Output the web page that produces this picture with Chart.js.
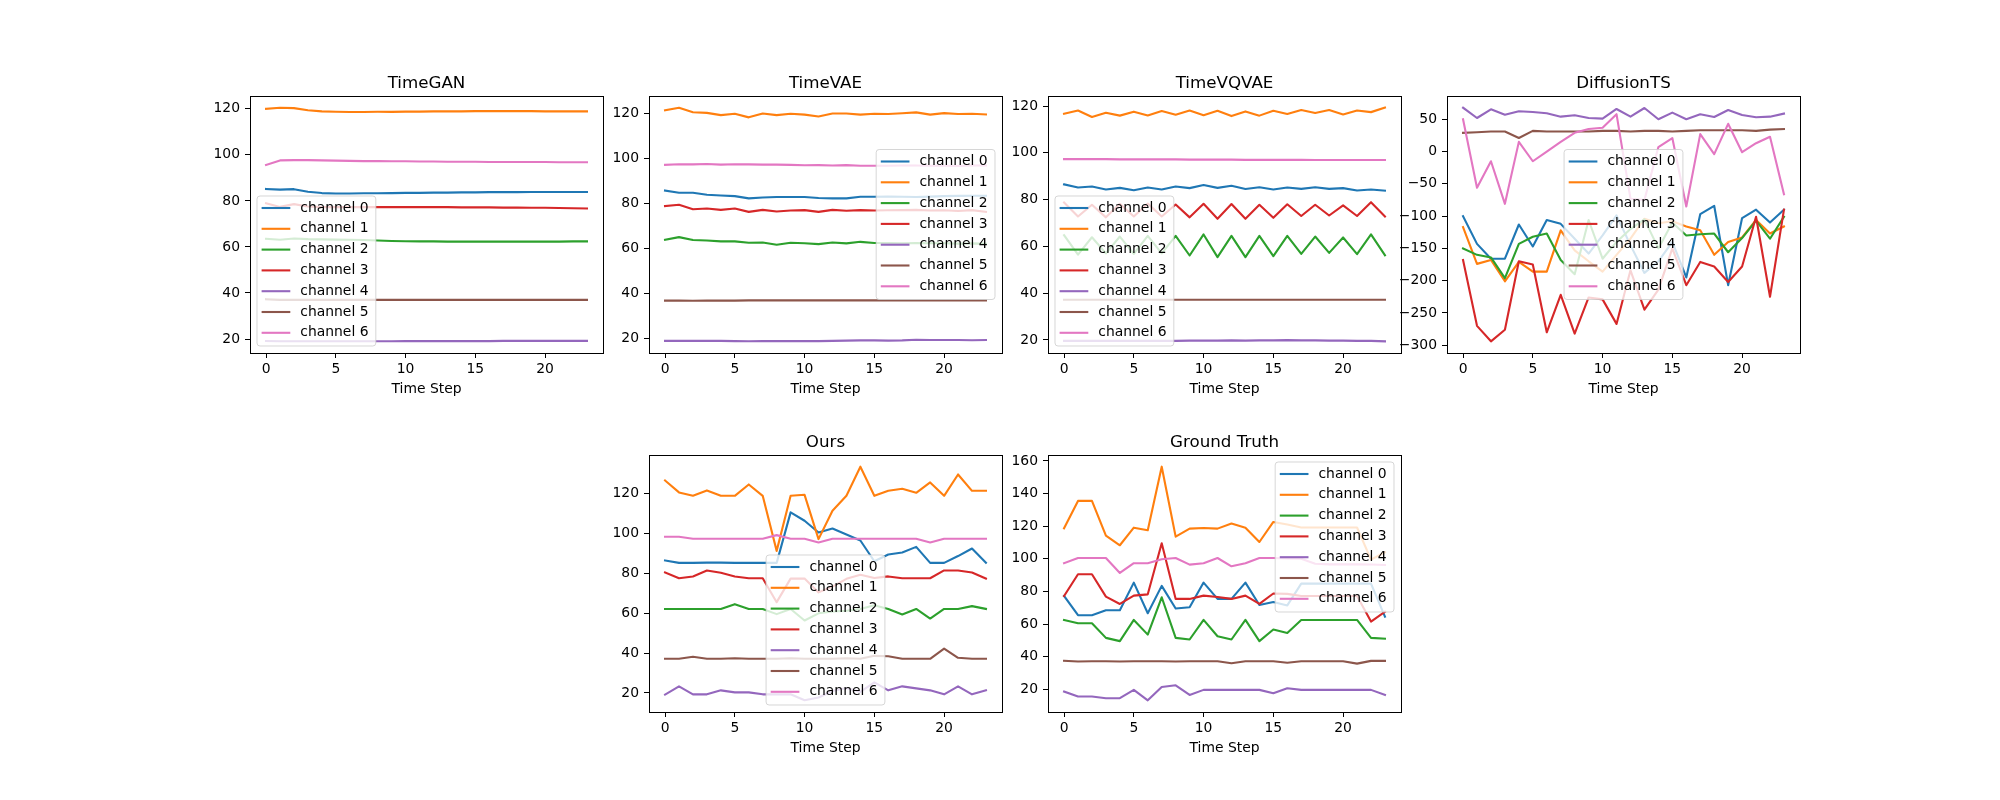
<!DOCTYPE html>
<html>
<head>
<meta charset="utf-8">
<script src="https://cdn.jsdelivr.net/npm/chart.js@4.4.1/dist/chart.umd.min.js"></script>
<style>
    body { margin: 0; background: #fff; width: 2000px; height: 800px; position: relative; overflow: hidden; }
    canvas { position: absolute; }
</style>
</head>
<body>
<canvas id="timegan"></canvas>
<canvas id="timevae"></canvas>
<canvas id="timevqvae"></canvas>
<canvas id="diffusionts"></canvas>
<canvas id="ours"></canvas>
<canvas id="groundtruth"></canvas>
<script>
// Shared categories / ticks
const timeSteps = [0, 1, 2, 3, 4, 5, 6, 7, 8, 9, 10, 11, 12, 13, 14, 15, 16, 17, 18, 19, 20, 21, 22, 23];
const channelNames = ['channel 0', 'channel 1', 'channel 2', 'channel 3', 'channel 4', 'channel 5', 'channel 6'];
const channelColors = ['#1f77b4', '#ff7f0e', '#2ca02c', '#d62728', '#9467bd', '#8c564b', '#e377c2'];
const xTicks = [0, 5, 10, 15, 20];
const yTicksMain = [20, 40, 60, 80, 100, 120];
const yTicksDiffusion = [-300, -250, -200, -150, -100, -50, 0, 50];
const yTicksTruth = [20, 40, 60, 80, 100, 120, 140, 160];

// TimeGAN (channel 0..6)
const timeGAN = [
    [85.2, 84.9, 85.1, 84.0, 83.4, 83.2, 83.2, 83.3, 83.3, 83.4, 83.5, 83.5, 83.6, 83.6, 83.7, 83.7, 83.8, 83.8, 83.8, 83.9, 83.9, 83.9, 83.9, 83.9],
    [120.0, 120.5, 120.3, 119.4, 118.9, 118.7, 118.6, 118.6, 118.7, 118.7, 118.8, 118.8, 118.9, 118.9, 118.9, 119.0, 119.0, 119.0, 119.0, 119.0, 118.9, 118.9, 118.9, 118.9],
    [63.5, 63.1, 63.7, 63.4, 63.3, 63.2, 63.1, 63.0, 62.8, 62.6, 62.5, 62.4, 62.4, 62.3, 62.3, 62.3, 62.3, 62.3, 62.3, 62.3, 62.3, 62.3, 62.4, 62.4],
    [79.0, 77.4, 78.6, 77.6, 77.3, 77.3, 77.3, 77.3, 77.3, 77.3, 77.3, 77.3, 77.3, 77.3, 77.2, 77.2, 77.2, 77.1, 77.1, 77.0, 77.0, 76.9, 76.8, 76.7],
    [19.1, 19.0, 19.0, 19.0, 19.0, 19.0, 19.0, 19.0, 19.0, 19.0, 19.1, 19.1, 19.1, 19.1, 19.1, 19.1, 19.1, 19.2, 19.2, 19.2, 19.2, 19.2, 19.2, 19.2],
    [37.3, 37.0, 37.0, 37.0, 37.0, 37.0, 37.0, 37.0, 37.0, 37.0, 37.0, 37.0, 37.0, 37.0, 37.0, 37.0, 37.0, 37.0, 37.0, 37.0, 37.0, 37.0, 37.0, 37.0],
    [95.6, 97.6, 97.7, 97.7, 97.6, 97.5, 97.4, 97.3, 97.3, 97.2, 97.2, 97.1, 97.1, 97.0, 97.0, 97.0, 96.9, 96.9, 96.9, 96.9, 96.9, 96.8, 96.8, 96.8]
];

// TimeVAE
const timeVAE = [
    [85.9, 84.9, 84.9, 84.0, 83.7, 83.4, 82.4, 82.8, 83.0, 83.0, 83.0, 82.6, 82.4, 82.4, 83.1, 83.1, 83.2, 83.1, 83.0, 83.2, 83.4, 83.5, 83.6, 83.6],
    [121.5, 122.7, 120.7, 120.4, 119.4, 120.0, 118.4, 120.1, 119.4, 120.0, 119.6, 118.8, 120.1, 120.1, 119.6, 120.0, 119.9, 120.2, 120.6, 119.6, 120.3, 119.9, 120.0, 119.7],
    [64.0, 65.2, 63.9, 63.7, 63.3, 63.3, 62.7, 62.8, 61.8, 62.7, 62.5, 62.1, 62.8, 62.4, 63.1, 62.6, 62.6, 62.5, 62.6, 62.5, 62.5, 62.3, 62.4, 62.2],
    [79.0, 79.6, 77.6, 77.9, 77.3, 77.9, 76.4, 77.3, 76.6, 77.0, 77.2, 76.4, 77.3, 76.9, 77.2, 77.0, 77.1, 77.2, 77.3, 77.0, 77.1, 76.8, 77.2, 76.4],
    [19.1, 19.1, 19.1, 19.1, 19.1, 19.0, 18.9, 19.0, 19.0, 19.0, 19.0, 19.0, 19.1, 19.2, 19.3, 19.3, 19.2, 19.3, 19.6, 19.5, 19.5, 19.5, 19.4, 19.5],
    [37.0, 37.0, 36.9, 37.0, 37.0, 37.0, 37.1, 37.1, 37.1, 37.1, 37.1, 37.1, 37.1, 37.1, 37.1, 37.1, 37.1, 37.1, 37.1, 37.1, 37.1, 37.1, 37.1, 37.1],
    [97.3, 97.6, 97.5, 97.7, 97.4, 97.6, 97.5, 97.4, 97.4, 97.3, 97.1, 97.2, 97.0, 97.2, 96.9, 96.9, 96.9, 97.0, 97.0, 96.9, 96.9, 96.8, 97.0, 97.0]
];

// TimeVQVAE
const timeVQVAE = [
    [86.5, 85.2, 85.6, 84.3, 85.0, 84.0, 85.2, 84.3, 85.6, 84.9, 86.2, 85.0, 85.9, 84.5, 85.3, 84.3, 85.2, 84.6, 85.3, 84.6, 84.9, 83.9, 84.3, 83.8],
    [116.7, 118.1, 115.3, 117.1, 115.9, 117.6, 116.0, 117.9, 116.3, 118.1, 116.1, 118.0, 115.7, 117.7, 115.9, 118.0, 116.6, 118.3, 117.0, 118.3, 116.4, 118.1, 117.4, 119.3],
    [64.8, 56.5, 63.9, 57.0, 64.2, 56.8, 64.5, 57.0, 64.5, 56.1, 65.1, 55.4, 64.5, 55.4, 64.5, 55.8, 64.5, 56.8, 64.2, 57.2, 63.8, 56.7, 65.1, 56.2],
    [78.8, 72.8, 77.8, 72.4, 78.2, 72.8, 78.3, 72.8, 77.9, 72.4, 78.2, 71.8, 78.1, 71.8, 77.8, 72.2, 78.0, 73.0, 77.8, 73.2, 77.5, 73.0, 78.9, 72.8],
    [19.6, 19.6, 19.6, 19.6, 19.6, 19.6, 19.6, 19.6, 19.6, 19.7, 19.7, 19.7, 19.8, 19.7, 19.8, 19.8, 19.9, 19.8, 19.8, 19.7, 19.7, 19.6, 19.6, 19.4],
    [37.2, 37.2, 37.2, 37.2, 37.2, 37.2, 37.2, 37.2, 37.2, 37.2, 37.2, 37.2, 37.2, 37.2, 37.2, 37.2, 37.2, 37.2, 37.2, 37.2, 37.2, 37.2, 37.2, 37.2],
    [97.3, 97.3, 97.3, 97.3, 97.2, 97.2, 97.2, 97.2, 97.2, 97.1, 97.1, 97.1, 97.1, 97.0, 97.0, 97.0, 97.0, 97.0, 96.9, 96.9, 96.9, 96.9, 96.9, 96.9]
];

// DiffusionTS
const diffusionTS = [
    [-100, -143, -166, -166, -113, -147, -106, -112, -135, -158, -130, -99, -145, -188, -170, -140, -195, -97, -84, -207, -103, -90, -110, -90],
    [-117, -174, -168, -201, -171, -186, -186, -122, -153, -170, -186, -160, -135, -104, -111, -108, -116, -122, -160, -140, -133, -106, -127, -116],
    [-150, -160, -164, -196, -143, -132, -127, -168, -190, -106, -166, -140, -120, -105, -150, -110, -130, -128, -127, -156, -134, -107, -135, -101],
    [-168, -270, -294, -276, -170, -175, -280, -222, -282, -226, -229, -267, -184, -245, -214, -150, -207, -171, -178, -202, -178, -101, -225, -90],
    [68, 52, 65.5, 57, 62.4, 61.4, 59.3, 54.1, 56.2, 52, 51, 66, 54.1, 67.5, 50, 60.3, 50, 57.7, 53.6, 64.5, 56.7, 53.1, 54.1, 58.8],
    [29, 30, 31, 31, 21, 32, 31, 31, 31, 31, 32, 32, 31, 32, 32, 31, 32, 33, 33, 33, 33, 32, 34, 35],
    [50, -56, -15, -81, 15, -15, 0, 15, 29, 35, 37, 58, -73, -75, 7, 21, -85, 27, -4, 43, -1, 13, 23, -66]
];

// Ours
const ours = [
    [86.4, 85.2, 85.2, 85.3, 85.3, 85.2, 85.2, 85.2, 85.2, 110.5, 106.3, 100.4, 102.4, 99.4, 96.4, 86.0, 89.4, 90.4, 93.2, 85.2, 85.2, 88.6, 92.4, 85.2],
    [126.5, 120.5, 118.8, 121.5, 118.8, 118.8, 124.5, 118.8, 91.2, 118.8, 119.3, 97.1, 111.3, 118.8, 133.4, 118.8, 121.3, 122.3, 120.3, 125.5, 118.8, 129.5, 121.3, 121.3],
    [62.1, 62.1, 62.1, 62.1, 62.1, 64.5, 62.1, 62.1, 59.5, 62.1, 56.3, 59.9, 60.8, 61.2, 62.1, 64.0, 62.1, 59.3, 62.1, 57.3, 62.1, 62.1, 63.5, 62.1],
    [80.4, 77.5, 78.4, 81.4, 80.2, 78.4, 77.5, 77.5, 65.5, 77.3, 77.3, 70.4, 73.3, 77.2, 79.2, 77.6, 78.4, 77.5, 77.5, 77.5, 81.4, 81.4, 80.4, 77.3],
    [19.2, 23.3, 19.3, 19.3, 21.3, 20.3, 20.3, 19.3, 19.3, 19.3, 16.3, 17.7, 21.0, 22.5, 20.5, 25.3, 21.3, 23.3, 22.3, 21.3, 19.3, 23.3, 19.3, 21.3],
    [37.1, 37.1, 38.1, 37.1, 37.1, 37.4, 37.1, 37.1, 37.1, 37.4, 37.1, 37.1, 37.1, 37.4, 37.1, 38.6, 38.4, 37.1, 37.1, 37.1, 42.2, 37.6, 37.1, 37.1],
    [98.3, 98.3, 97.3, 97.3, 97.3, 97.3, 97.3, 97.3, 99.1, 97.3, 97.3, 95.4, 97.3, 97.3, 97.3, 97.3, 97.3, 97.3, 97.3, 95.4, 97.3, 97.3, 97.3, 97.3]
];

// Ground Truth
const groundTruth = [
    [77.2, 65.4, 65.4, 68.4, 68.4, 85.4, 66.6, 83.4, 69.5, 70.3, 85.4, 75.4, 75.4, 85.4, 71.7, 73.5, 71.4, 84.8, 84.8, 84.8, 84.8, 84.8, 84.8, 64.5],
    [118.7, 135.5, 135.5, 114.2, 108.3, 119.1, 117.5, 156.5, 113.6, 118.5, 118.9, 118.5, 121.6, 119.1, 110.3, 122.6, 121.0, 119.2, 119.2, 119.2, 119.2, 119.2, 99.5, 104.0],
    [62.5, 60.5, 60.5, 51.5, 49.5, 62.5, 53.5, 76.4, 51.5, 50.5, 62.5, 52.5, 50.5, 62.5, 49.5, 56.6, 54.5, 62.5, 62.5, 62.5, 62.5, 62.5, 51.5, 51.0],
    [77.2, 90.5, 90.5, 76.8, 72.3, 77.4, 78.2, 109.5, 75.4, 75.4, 77.4, 76.6, 75.4, 77.4, 72.3, 78.7, 78.5, 77.2, 77.2, 77.2, 77.2, 77.2, 61.5, 67.5],
    [18.6, 15.5, 15.5, 14.5, 14.5, 19.6, 13.2, 21.4, 22.4, 16.5, 19.6, 19.6, 19.6, 19.6, 19.6, 17.5, 20.6, 19.6, 19.6, 19.6, 19.6, 19.6, 19.6, 16.5],
    [37.4, 37.0, 37.2, 37.2, 37.0, 37.2, 37.2, 37.2, 37.0, 37.2, 37.2, 37.2, 35.9, 37.2, 37.2, 37.2, 36.2, 37.2, 37.2, 37.2, 37.2, 35.7, 37.4, 37.4],
    [97.3, 100.5, 100.5, 100.5, 91.3, 97.3, 97.3, 99.7, 100.5, 96.4, 97.3, 100.5, 95.4, 97.3, 100.5, 100.5, 100.2, 100.0, 97.0, 96.6, 96.6, 96.6, 96.5, 96.2]
];

const FONT = 'DejaVu Sans';
const TICK_SIZE = 13.9;
const AX_W = 353, AX_H = 257;
const PAD_L = 70, PAD_T = 40, PAD_R = 10, PAD_B = 55;

Chart.defaults.font.family = FONT;
Chart.defaults.color = '#000';

// axes box, title, x label and a matplotlib-like legend
const framePlugin = {
    id: 'frame',
    afterDatasetsDraw(chart, args, opts) {
        const { ctx, chartArea: a } = chart;
        const cx = (a.left + a.right) / 2;
        ctx.save();

        // legend
        ctx.font = TICK_SIZE + 'px "' + FONT + '"';
        const textW = Math.max(...channelNames.map(n => ctx.measureText(n).width));
        const w = 43.3 + textW + 7.3, h = 150;
        const pad = 7;
        let x = cx - w / 2, y = (a.top + a.bottom) / 2 - h / 2;
        if (opts.legendLoc.includes('left')) x = a.left + pad;
        if (opts.legendLoc.includes('right')) x = a.right - pad - w;
        if (opts.legendLoc.includes('upper')) y = a.top + pad;
        if (opts.legendLoc.includes('lower')) y = a.bottom - pad - h;
        ctx.beginPath();
        ctx.roundRect(x, y, w, h, 3);
        ctx.fillStyle = 'rgba(255,255,255,0.8)';
        ctx.fill();
        ctx.strokeStyle = 'rgba(204,204,204,0.8)';
        ctx.lineWidth = 1;
        ctx.stroke();
        ctx.textAlign = 'left';
        ctx.textBaseline = 'middle';
        channelNames.forEach((name, i) => {
            const ry = y + 12 + i * 20.8;
            ctx.strokeStyle = channelColors[i];
            ctx.lineWidth = 2.1;
            ctx.beginPath();
            ctx.moveTo(x + 4.6, ry);
            ctx.lineTo(x + 33.3, ry);
            ctx.stroke();
            ctx.fillStyle = '#000';
            ctx.fillText(name, x + 43.3, ry);
        });

        // axes box
        ctx.strokeStyle = '#000';
        ctx.lineWidth = 1;
        ctx.strokeRect(Math.round(a.left) + 0.5, Math.round(a.top) + 0.5, Math.round(a.right - a.left), Math.round(a.bottom - a.top));

        // title and x label
        ctx.fillStyle = '#000';
        ctx.textAlign = 'center';
        ctx.textBaseline = 'alphabetic';
        ctx.font = '16.7px "' + FONT + '"';
        ctx.fillText(opts.title, cx, a.top - 8);
        ctx.font = TICK_SIZE + 'px "' + FONT + '"';
        ctx.fillText('Time Step', cx, a.bottom + 40);
        ctx.restore();
    }
};

const axisRange = (series) => {
    const all = series.flat();
    const lo = Math.min(...all), hi = Math.max(...all);
    const m = (hi - lo) * 0.05;
    return [lo - m, hi + m];
};

const createPanel = (id, title, series, yTicks, legendLoc, axLeft, axTop) => {
    const canvas = document.getElementById(id);
    canvas.width = PAD_L + AX_W + PAD_R;
    canvas.height = PAD_T + AX_H + PAD_B;
    canvas.style.left = (axLeft - PAD_L) + 'px';
    canvas.style.top = (axTop - PAD_T) + 'px';
    const [yMin, yMax] = axisRange(series);
    const tickGrid = { display: true, drawOnChartArea: false, drawTicks: true, tickLength: 5, tickWidth: 1, tickColor: '#000' };

    new Chart(canvas.getContext('2d'), {
        type: 'line',
        data: {
            datasets: series.map((vals, i) => ({
                label: channelNames[i],
                data: vals.map((v, j) => ({ x: timeSteps[j], y: v })),
                borderColor: channelColors[i],
                backgroundColor: channelColors[i],
                borderWidth: 2.1,
                borderJoinStyle: 'round',
                borderCapStyle: 'square',
                pointRadius: 0,
                tension: 0,
                order: -i
            }))
        },
        options: {
            responsive: false,
            animation: false,
            devicePixelRatio: 1,
            layout: { padding: { left: 0, top: PAD_T, right: PAD_R, bottom: 0 } },
            plugins: {
                legend: { display: false },
                tooltip: { enabled: false },
                frame: { title: title, legendLoc: legendLoc }
            },
            scales: {
                x: {
                    type: 'linear',
                    bounds: 'data',
                    min: -1.15,
                    max: 24.15,
                    afterBuildTicks: s => { s.ticks = xTicks.map(v => ({ value: v })); },
                    afterFit: s => { s.height = PAD_B; },
                    grid: tickGrid,
                    border: { display: false },
                    ticks: { color: '#000', font: { size: TICK_SIZE }, padding: 3, maxRotation: 0, autoSkip: false }
                },
                y: {
                    type: 'linear',
                    bounds: 'data',
                    min: yMin,
                    max: yMax,
                    afterBuildTicks: s => { s.ticks = yTicks.map(v => ({ value: v })); },
                    afterFit: s => { s.width = PAD_L; },
                    grid: tickGrid,
                    border: { display: false },
                    ticks: {
                        color: '#000',
                        font: { size: TICK_SIZE },
                        padding: 5,
                        autoSkip: false,
                        callback: v => String(v).replace('-', '\u2212')
                    }
                }
            }
        },
        plugins: [framePlugin]
    });
};

document.addEventListener('DOMContentLoaded', function() {
    createPanel('timegan', 'TimeGAN', timeGAN, yTicksMain, 'lower left', 250, 96);
    createPanel('timevae', 'TimeVAE', timeVAE, yTicksMain, 'center right', 649, 96);
    createPanel('timevqvae', 'TimeVQVAE', timeVQVAE, yTicksMain, 'lower left', 1048, 96);
    createPanel('diffusionts', 'DiffusionTS', diffusionTS, yTicksDiffusion, 'center', 1447, 96);
    createPanel('ours', 'Ours', ours, yTicksMain, 'lower center', 649, 455);
    createPanel('groundtruth', 'Ground Truth', groundTruth, yTicksTruth, 'upper right', 1048, 455);
});
</script>
</body>
</html>
